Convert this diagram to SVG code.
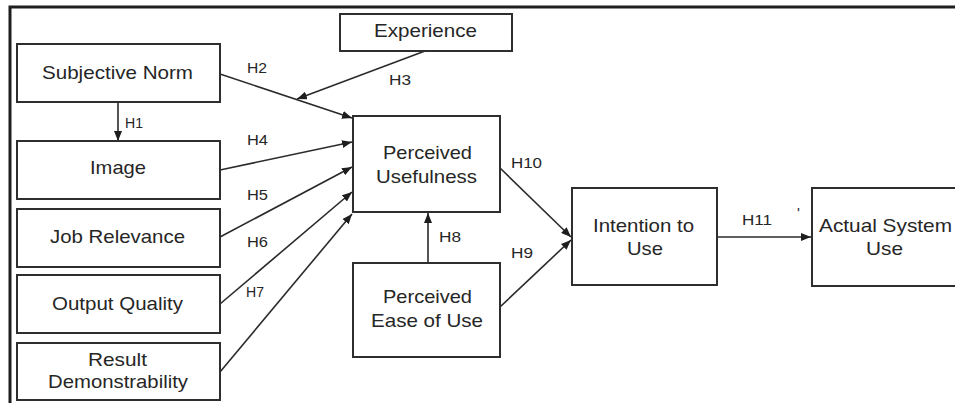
<svg xmlns="http://www.w3.org/2000/svg" width="955" height="403" viewBox="0 0 955 403">
  <style>
    .box { fill: #ffffff; stroke: #2e2e2e; stroke-width: 2; }
    .lbl { font-family: "Liberation Sans", Arial, sans-serif; font-size: 18.5px; fill: #262626; text-anchor: middle; }
    .hyp { font-family: "Liberation Sans", Arial, sans-serif; font-size: 15px; fill: #262626; }
    .edge { stroke: #2a2a2a; stroke-width: 1.6; fill: none; marker-end: url(#arrow); }
    .frame { stroke: #1e1e1e; stroke-width: 3; fill: none; }
  </style>
  <defs>
    <marker id="arrow" viewBox="0 0 10 8" refX="10" refY="4" markerWidth="10" markerHeight="8" markerUnits="userSpaceOnUse" orient="auto">
      <path d="M0,0 L10,4 L0,8 Z" fill="#1e1e1e"/>
    </marker>
  </defs>
  <rect x="0" y="0" width="955" height="403" fill="#ffffff"/>

  <!-- outer frame (top and left edges) -->
  <path class="frame" d="M10,403 L10,7 L955,7"/>

  <!-- connectors -->
  <g id="connectors">
    <line class="edge" x1="220" y1="74" x2="352" y2="118"/>
    <line class="edge" x1="425" y1="51" x2="297" y2="99"/>
    <line class="edge" x1="118" y1="102" x2="118" y2="141"/>
    <line class="edge" x1="220" y1="170" x2="352" y2="142"/>
    <line class="edge" x1="220" y1="237" x2="352" y2="167"/>
    <line class="edge" x1="220" y1="304" x2="352" y2="192"/>
    <line class="edge" x1="220" y1="372" x2="352" y2="214"/>
    <line class="edge" x1="428" y1="263" x2="428" y2="213"/>
    <line class="edge" x1="500" y1="168" x2="571" y2="237"/>
    <line class="edge" x1="500" y1="307" x2="571" y2="240"/>
    <line class="edge" x1="717" y1="237" x2="811" y2="237"/>
  </g>

  <!-- hypothesis labels -->
  <g id="hypotheses">
    <text class="hyp" x="247" y="73" textLength="20" lengthAdjust="spacingAndGlyphs">H2</text>
    <text class="hyp" x="389" y="85" textLength="22" lengthAdjust="spacingAndGlyphs">H3</text>
    <text class="hyp" x="125" y="128" textLength="18" lengthAdjust="spacingAndGlyphs">H1</text>
    <text class="hyp" x="247" y="145" textLength="21" lengthAdjust="spacingAndGlyphs">H4</text>
    <text class="hyp" x="247" y="200" textLength="21" lengthAdjust="spacingAndGlyphs">H5</text>
    <text class="hyp" x="247" y="247" textLength="21" lengthAdjust="spacingAndGlyphs">H6</text>
    <text class="hyp" x="246" y="297" textLength="18" lengthAdjust="spacingAndGlyphs">H7</text>
    <text class="hyp" x="439" y="242" textLength="22" lengthAdjust="spacingAndGlyphs">H8</text>
    <text class="hyp" x="511" y="168" textLength="31" lengthAdjust="spacingAndGlyphs">H10</text>
    <text class="hyp" x="511" y="258" textLength="22" lengthAdjust="spacingAndGlyphs">H9</text>
    <text class="hyp" x="742" y="225" textLength="30" lengthAdjust="spacingAndGlyphs">H11</text>
    <text class="hyp" x="797" y="218">'</text>
  </g>

  <g id="experience">
    <rect class="box" x="340" y="14" width="172" height="37"/>
    <text class="lbl" x="425.5" y="37" textLength="103" lengthAdjust="spacingAndGlyphs">Experience</text>
  </g>
  <g id="subjective-norm">
    <rect class="box" x="17" y="44" width="203" height="58"/>
    <text class="lbl" x="117.5" y="79" textLength="151" lengthAdjust="spacingAndGlyphs">Subjective Norm</text>
  </g>
  <g id="image">
    <rect class="box" x="17" y="141" width="203" height="58"/>
    <text class="lbl" x="118" y="174" textLength="56" lengthAdjust="spacingAndGlyphs">Image</text>
  </g>
  <g id="job-relevance">
    <rect class="box" x="17" y="209" width="203" height="58"/>
    <text class="lbl" x="117.5" y="243" textLength="135" lengthAdjust="spacingAndGlyphs">Job Relevance</text>
  </g>
  <g id="output-quality">
    <rect class="box" x="17" y="275" width="203" height="58"/>
    <text class="lbl" x="117.5" y="310" textLength="131" lengthAdjust="spacingAndGlyphs">Output Quality</text>
  </g>
  <g id="result-demonstrability">
    <rect class="box" x="17" y="343" width="203" height="57"/>
    <text class="lbl" x="117.5" y="366" textLength="59" lengthAdjust="spacingAndGlyphs">Result</text>
    <text class="lbl" x="118" y="388" textLength="140" lengthAdjust="spacingAndGlyphs">Demonstrability</text>
  </g>
  <g id="perceived-usefulness">
    <rect class="box" x="353" y="116" width="147" height="96"/>
    <text class="lbl" x="427.5" y="159" textLength="89" lengthAdjust="spacingAndGlyphs">Perceived</text>
    <text class="lbl" x="426.5" y="183" textLength="101" lengthAdjust="spacingAndGlyphs">Usefulness</text>
  </g>
  <g id="perceived-ease-of-use">
    <rect class="box" x="353" y="263" width="147" height="94"/>
    <text class="lbl" x="427.5" y="303" textLength="89" lengthAdjust="spacingAndGlyphs">Perceived</text>
    <text class="lbl" x="427" y="327" textLength="112" lengthAdjust="spacingAndGlyphs">Ease of Use</text>
  </g>
  <g id="intention-to-use">
    <rect class="box" x="572" y="188" width="145" height="97"/>
    <text class="lbl" x="643.5" y="232" textLength="101" lengthAdjust="spacingAndGlyphs">Intention to</text>
    <text class="lbl" x="645" y="255" textLength="36" lengthAdjust="spacingAndGlyphs">Use</text>
  </g>
  <g id="actual-system-use">
    <rect class="box" x="812" y="188" width="150" height="98"/>
    <text class="lbl" x="885.5" y="232" textLength="133" lengthAdjust="spacingAndGlyphs">Actual System</text>
    <text class="lbl" x="884.5" y="255" textLength="37" lengthAdjust="spacingAndGlyphs">Use</text>
  </g>
</svg>
